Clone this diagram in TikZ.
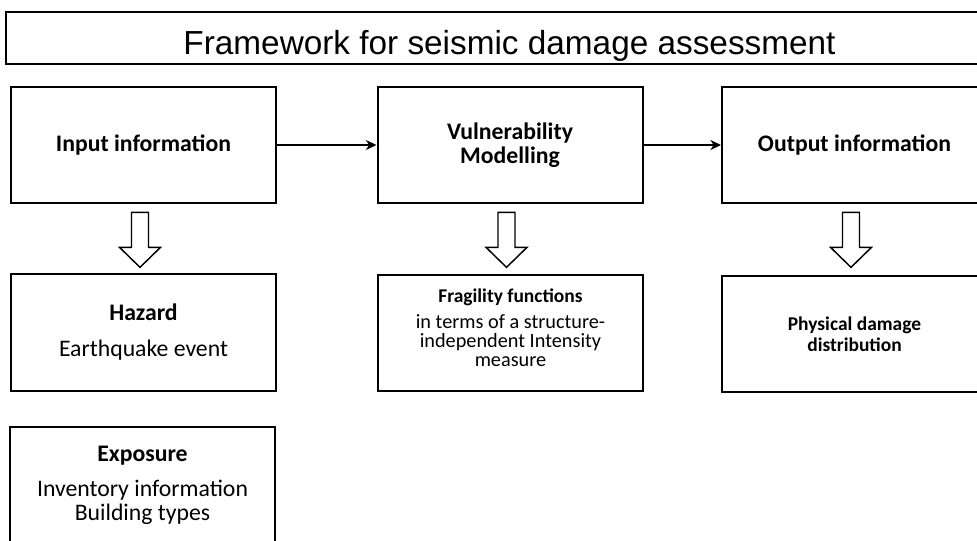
\documentclass[tikz,border=0pt]{standalone}
\usepackage{fontspec}
\setmainfont{Carlito}
\newfontfamily\titlefont{Liberation Sans}
\usetikzlibrary{arrows.meta,calc}

\begin{document}
\begin{tikzpicture}[x=0.75pt,y=-0.75pt,
  box/.style={draw, line width=1.5pt, inner sep=0pt, align=center,
    minimum width=198.75pt, minimum height=87.5pt},
  bigtext/.style={font=\fontsize{17.8}{18}\selectfont},
  smalltext/.style={font=\fontsize{15.2}{14}\selectfont},
  flow/.style={line width=1.1pt, -{Stealth[length=8pt,width=7.5pt,inset=2.5pt]}},
  hollowarrow/.style={draw, line width=1.1pt, line join=miter, fill=white}
]
\clip (0,0) rectangle (977,540);
\fill[white] (0,0) rectangle (977,540);

% title bar
\node[draw, line width=1.5pt, inner sep=0pt, minimum width=755pt, minimum height=39pt,
  text height=24pt, text depth=0pt,
  font=\titlefont\fontsize{25}{26}\selectfont] (title) at (509.5,38)
  {Framework for seismic damage assessment};

% top row
\node[box, bigtext] (input) at (143.5,145) {\textbf{Input information}};
\node[box, bigtext] (vuln) at (510,145) {\textbf{Vulnerability}\\\textbf{Modelling}};
\node[box, bigtext] (output) at (854.5,145) {\textbf{Output information}};

% second row
\node[box, bigtext] (hazard) at (143.5,332.5)
  {\textbf{Hazard}\\[9pt]Earthquake event};
\node[box, smalltext] (frag) at (510.5,333)
  {\textbf{\fontsize{14.6}{14}\selectfont Fragility functions}\\[5.6pt]in terms of a structure-\\independent Intensity\\measure\\[-6pt]\mbox{}};
\node[box, font=\fontsize{14.6}{15.75}\selectfont] (phys) at (854.5,334)
  {\textbf{Physical damage}\\\textbf{distribution}};

% third row
\node[box, bigtext] (expo) at (142.5,485.5)
  {\textbf{Exposure}\\[8.25pt]Inventory information\\Building types};

% flow between the main stages
\draw[flow] (input.east) -- (vuln.west);
\draw[flow] (vuln.east) -- (output.west);

% hollow block arrows from each stage to its detail box
\foreach \src in {input, vuln, output} {
  \draw[hollowarrow] ($(\src.south)+(-12,8)$) -- ++(17,0) -- ++(0,35) -- ++(12,0)
    -- ++(-20.5,20) -- ++(-20.5,-20) -- ++(12,0) -- cycle;
}
\end{tikzpicture}
\end{document}
